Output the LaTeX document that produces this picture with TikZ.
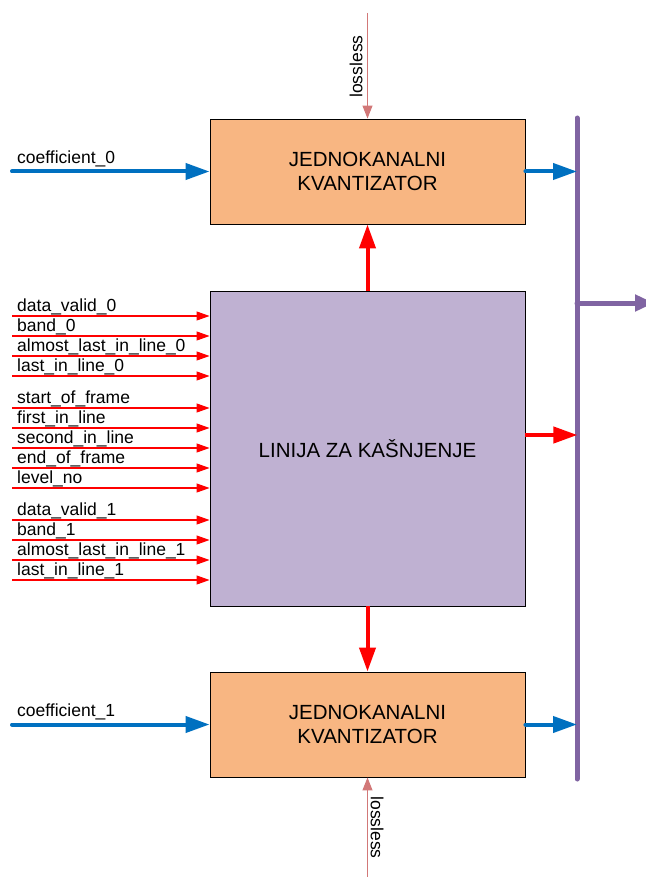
\documentclass[tikz,border=0pt]{standalone}
\usepackage{fontspec}
\setmainfont{Liberation Sans}
\usepackage{xcolor}
\usepackage{tikz}
\usetikzlibrary{arrows.meta}
\definecolor{kvorange}{RGB}{248,182,130}
\definecolor{linlila}{RGB}{191,177,210}
\definecolor{sigblue}{RGB}{0,112,192}
\definecolor{buspurple}{RGB}{128,100,162}
\definecolor{losred}{RGB}{210,120,120}

\begin{document}
\begin{tikzpicture}[x=1pt,y=-1pt,every node/.style={font=\fontsize{17.5}{20}\selectfont},
    blok/.style={draw=black,line width=0.9pt,minimum width=315pt,inner sep=0pt,align=center,
                 font=\fontsize{20.5}{24}\selectfont},
    coefarrow/.style={sigblue,line width=4pt,line cap=round,-{Triangle[length=24pt,width=16pt]}},
    ctrlarrow/.style={red,line width=4pt,-{Triangle[length=24pt,width=16pt]}},
    sigin/.style={red,line width=1.1pt,-{Triangle[length=13pt,width=9pt]}},
    losarrow/.style={losred,line width=1.1pt,-{Triangle[length=13pt,width=10pt]}},
    busline/.style={buspurple,line width=5pt,line cap=round}]
  \useasboundingbox (0,0) rectangle (645,877);

  % the three blocks
  \node[blok,fill=kvorange,minimum height=105pt] (kvant0) at (367.5,171.5) {JEDNOKANALNI\\KVANTIZATOR};
  \node[blok,fill=linlila,minimum height=315pt] (linija) at (367.5,448.5) {LINIJA ZA KAŠNJENJE};
  \node[blok,fill=kvorange,minimum height=105pt] (kvant1) at (367.5,724.5) {JEDNOKANALNI\\KVANTIZATOR};

  % output bus
  \coordinate (bustop) at (577,118);
  \coordinate (busbot) at (577,779);
  \coordinate (busout) at (577,303);
  \coordinate (busend) at (654,303);
  \draw[busline] (bustop) -- (busbot);
  \draw[busline,-{Triangle[length=19pt,width=16pt]}] (busout) -- (busend);

  % coefficients in, quantised values out
  \coordinate (coef0) at (12,171.5);
  \coordinate (coef1) at (12,724.5);
  \draw[coefarrow] (coef0) -- (kvant0.west);
  \draw[coefarrow] (coef1) -- (kvant1.west);
  \node[anchor=base west,inner sep=0pt] (lcoef0) at (17,163.5) {coefficient\_0};
  \node[anchor=base west,inner sep=0pt] (lcoef1) at (17,716.5) {coefficient\_1};
  \draw[coefarrow] (kvant0.east) -- (kvant0.east -| bustop);
  \draw[coefarrow] (kvant1.east) -- (kvant1.east -| bustop);

  % delay line to both quantisers and to the bus
  \draw[ctrlarrow] (linija.north) -- (kvant0.south);
  \draw[ctrlarrow] (linija.south) -- (kvant1.north);
  \draw[ctrlarrow] ([yshift=13.5pt]linija.east) -- +(52,0);

  % lossless
  \coordinate (los0) at (367.5,13);
  \coordinate (los1) at (367.5,877);
  \draw[losarrow] (los0) -- (kvant0.north);
  \draw[losarrow] (los1) -- (kvant1.south);
  \node[rotate=90,inner sep=0pt] (llos0) at (356,66.5) {lossless};
  \node[rotate=-90,inner sep=0pt] (llos1) at (377,827.5) {lossless};

  % control signals
  \foreach \y/\lab [count=\i] in {316/data\_valid\_0, 336/band\_0, 356/almost\_last\_in\_line\_0,
      376/last\_in\_line\_0, 408/start\_of\_frame, 428/first\_in\_line, 448/second\_in\_line,
      468/end\_of\_frame, 488/level\_no, 520/data\_valid\_1, 540/band\_1,
      560/almost\_last\_in\_line\_1, 580/last\_in\_line\_1}{
    \coordinate (in\i) at (12,\y);
    \draw[sigin] (in\i) -- (linija.west |- in\i);
    \node[anchor=base west,inner sep=0pt] (lab\i) at (17,\y-4.5) {\lab};
  }
\end{tikzpicture}
\end{document}
